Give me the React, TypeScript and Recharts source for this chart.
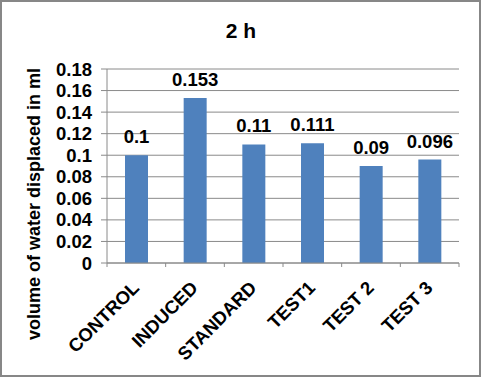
import React from 'react';
import { BarChart, Bar, XAxis, YAxis, CartesianGrid, LabelList } from 'recharts';

const categories = ['CONTROL', 'INDUCED', 'STANDARD', 'TEST1', 'TEST 2', 'TEST 3'];
const values = [0.1, 0.153, 0.11, 0.111, 0.09, 0.096];
const valueLabels = ['0.1', '0.153', '0.11', '0.111', '0.09', '0.096'];
const yTicks = [0, 0.02, 0.04, 0.06, 0.08, 0.1, 0.12, 0.14, 0.16, 0.18];
const yTickLabels = ['0', '0.02', '0.04', '0.06', '0.08', '0.1', '0.12', '0.14', '0.16', '0.18'];
const title = '2 h';
const yAxisTitle = 'volume of water displaced in ml';

const data = categories.map((c, i) => ({ name: c, value: values[i], label: valueLabels[i] }));

const W = 482;
const H = 378;
const margin = { top: 69, right: 23, left: 0, bottom: 0 };
const yAxisWidth = 107;
const xAxisHeight = 115;
const plotWidth = W - margin.left - margin.right - yAxisWidth;
const bandWidth = plotWidth / categories.length;
const FONT = '"Liberation Sans", Arial, sans-serif';
const GRID = '#8a8a8a';
const FS = 18.5;

const XTick = (props: any) => {
  const { x, y, payload, index } = props;
  const half = bandWidth / 2;
  const ax = x + 4;
  const ay = y + 26;
  return (
    <g>
      <line x1={x - half} x2={x - half} y1={y} y2={y + 4} stroke={GRID} strokeWidth={1} />
      {index === categories.length - 1 && (
        <line x1={x + half} x2={x + half} y1={y} y2={y + 4} stroke={GRID} strokeWidth={1} />
      )}
      <text
        x={ax}
        y={ay}
        transform={`rotate(-45, ${ax}, ${ay})`}
        textAnchor="end"
        fontFamily={FONT}
        fontWeight="bold"
        fontSize={FS}
        fill="#000"
      >
        {payload.value}
      </text>
    </g>
  );
};

const YTitle = () => (
  <text
    x={40}
    y={204}
    transform="rotate(-90, 40, 204)"
    textAnchor="middle"
    fontFamily={FONT}
    fontWeight="bold"
    fontSize={18}
    fill="#000"
  >
    {yAxisTitle}
  </text>
);

export default function App() {
  return (
    <div style={{ position: 'fixed', left: 0, top: 0, width: W, height: H, background: '#fff' }}>
      <div style={{ position: 'absolute', left: 0, top: 0 }}>
        <BarChart width={W} height={H} data={data} margin={margin}>
          <CartesianGrid horizontal vertical={false} stroke={GRID} strokeWidth={1} />
          <XAxis
            dataKey="name"
            height={xAxisHeight}
            interval={0}
            tickLine={false}
            tickSize={0}
            tickMargin={0}
            axisLine={{ stroke: GRID, strokeWidth: 1 }}
            tick={<XTick />}
          />
          <YAxis
            width={yAxisWidth}
            domain={[0, 0.18]}
            ticks={yTicks}
            interval={0}
            tickSize={6}
            tickMargin={9}
            tickLine={{ stroke: GRID }}
            axisLine={{ stroke: GRID, strokeWidth: 1 }}
            tickFormatter={(v: number) => yTickLabels[yTicks.indexOf(v)] ?? String(v)}
            tick={{ fill: '#000', fontFamily: FONT, fontWeight: 'bold', fontSize: FS }}
            label={{ content: () => <YTitle /> }}
          />
          <Bar dataKey="value" fill="#4F81BD" barSize={23} isAnimationActive={false}>
            <LabelList
              dataKey="label"
              position="top"
              offset={12}
              fill="#000"
              fontFamily={FONT}
              fontWeight="bold"
              fontSize={FS}
            />
          </Bar>
        </BarChart>
      </div>
      <div
        style={{
          position: 'absolute',
          left: 0,
          top: 20,
          width: W,
          textAlign: 'center',
          fontFamily: FONT,
          fontWeight: 'bold',
          fontSize: 21,
          lineHeight: '21px',
          color: '#000',
        }}
      >
        {title}
      </div>
      <div
        style={{
          position: 'absolute',
          left: 0,
          top: 0,
          width: W - 1,
          height: H - 1,
          boxSizing: 'border-box',
          border: '2px solid #878787',
          pointerEvents: 'none',
        }}
      />
    </div>
  );
}
